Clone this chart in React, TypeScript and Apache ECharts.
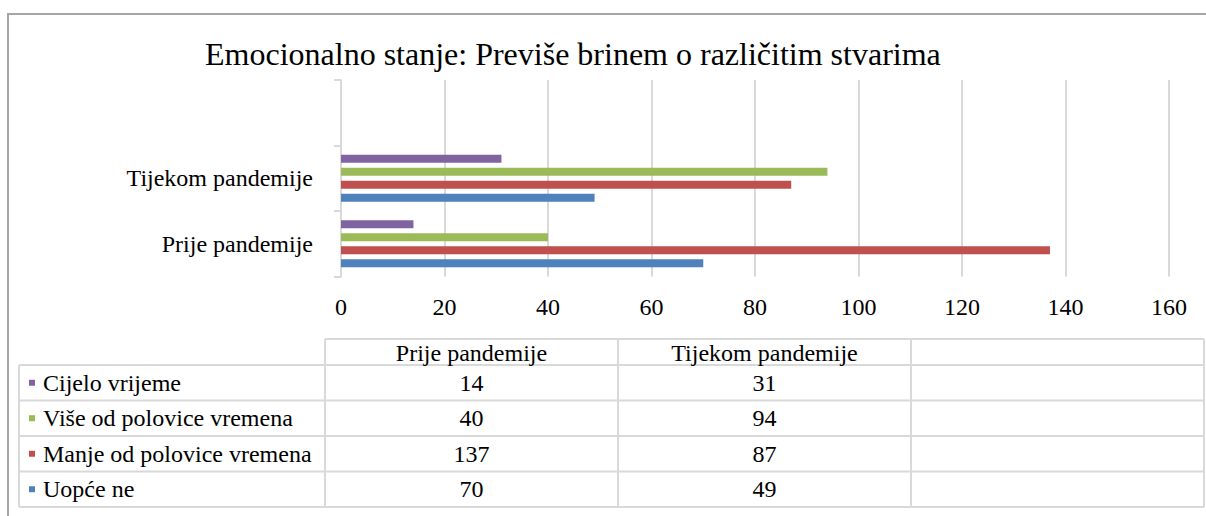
import React, { useEffect, useRef } from "react";
import * as echarts from "echarts";

const titleText = "Emocionalno stanje: Previše brinem o različitim stvarima";
const categories = ["Prije pandemije", "Tijekom pandemije", ""];
const tableColumns = ["Prije pandemije", "Tijekom pandemije", ""];
const seriesNames = ["Cijelo vrijeme", "Više od polovice vremena", "Manje od polovice vremena", "Uopće ne"];
const seriesColors = ["#8064A2", "#9BBB59", "#C0504D", "#4F81BD"];
const cijeloVrijeme = [14, 31];
const viseOdPolovice = [40, 94];
const manjeOdPolovice = [137, 87];
const uopceNe = [70, 49];
const seriesValues = [cijeloVrijeme, viseOdPolovice, manjeOdPolovice, uopceNe];
const xTicks = { min: 0, max: 160, interval: 20 };

const FONT = '"Liberation Serif", "Times New Roman", serif';

export default function App() {
  const ref = useRef<HTMLDivElement>(null);
  useEffect(() => {
    if (!ref.current) return;
    const chart = echarts.init(ref.current, undefined, { renderer: "svg" });
    const gridColor = "#d9d9d9";

    const colX = [325, 618, 911, 1204];
    const tableLeft = 19;
    const headerTop = 339;
    const headerBottom = 365;
    const rowH = 35.5;
    const tableBottom = headerBottom + rowH * seriesNames.length;
    const g: any[] = [];
    const lineStyle = { stroke: gridColor, lineWidth: 2 };
    g.push({ type: "line", shape: { x1: 8, y1: 14, x2: 1206, y2: 14 }, style: { stroke: "#a6a6a6", lineWidth: 2 } });
    g.push({ type: "line", shape: { x1: 8, y1: 13, x2: 8, y2: 516 }, style: { stroke: "#a6a6a6", lineWidth: 2 } });
    g.push({ type: "line", shape: { x1: colX[0], y1: headerTop, x2: colX[3], y2: headerTop }, style: lineStyle });
    for (let i = 0; i <= seriesNames.length; i++) {
      const y = headerBottom + rowH * i;
      g.push({ type: "line", shape: { x1: tableLeft, y1: y, x2: colX[3], y2: y }, style: lineStyle });
    }
    g.push({ type: "line", shape: { x1: tableLeft, y1: headerBottom, x2: tableLeft, y2: tableBottom }, style: lineStyle });
    colX.forEach((x) => {
      g.push({ type: "line", shape: { x1: x, y1: headerTop, x2: x, y2: tableBottom }, style: lineStyle });
    });

    const titles: any[] = [
      {
        text: titleText,
        left: 200,
        top: 33,
        textStyle: { fontFamily: FONT, fontSize: 32, fontWeight: "normal", color: "#000" },
      },
    ];
    const cell = (text: string, x: number, y: number, align: string) => ({
      text,
      left: x,
      top: y,
      padding: 0,
      textAlign: align,
      textVerticalAlign: "middle",
      textStyle: { fontFamily: FONT, fontSize: 24, fontWeight: "normal", color: "#000" },
    });
    tableColumns.forEach((c, ci) => {
      if (!c) return;
      titles.push(cell(c, (colX[ci] + colX[ci + 1]) / 2, (headerTop + headerBottom) / 2 + 1, "center"));
    });
    seriesNames.forEach((name, ri) => {
      const cy = headerBottom + rowH * ri + rowH / 2;
      g.push({ type: "rect", shape: { x: 29, y: cy - 3, width: 6, height: 6 }, style: { fill: seriesColors[ri] } });
      titles.push(cell(name, 43, cy, "left"));
      seriesValues[ri].forEach((v, ci) => {
        titles.push(cell(String(v), (colX[ci] + colX[ci + 1]) / 2, cy, "center"));
      });
    });

    const order = [0, 1, 2, 3];
    chart.setOption({
      animation: false,
      backgroundColor: "#ffffff",
      title: titles,
      grid: { left: 341, right: 37, top: 80, bottom: 239.5, containLabel: false },
      xAxis: {
        type: "value",
        min: xTicks.min,
        max: xTicks.max,
        interval: xTicks.interval,
        axisLine: { show: false },
        axisTick: { show: false },
        splitLine: { lineStyle: { color: gridColor, width: 2 } },
        axisLabel: { fontFamily: FONT, fontSize: 24, color: "#000", margin: 18 },
      },
      yAxis: {
        type: "category",
        data: categories,
        axisLine: { show: true, lineStyle: { color: gridColor, width: 2 } },
        axisTick: { show: true, length: 7, lineStyle: { color: gridColor, width: 2 } },
        axisLabel: { fontFamily: FONT, fontSize: 24, color: "#000", margin: 28 },
      },
      series: order.map((i) => ({
        type: "bar",
        name: seriesNames[i],
        data: seriesValues[i],
        barWidth: 8,
        barGap: "62%",
        itemStyle: { color: seriesColors[i] },
      })),
      graphic: { elements: g },
    });
    return () => chart.dispose();
  }, []);
  return <div ref={ref} style={{ position: "absolute", left: 0, top: 0, width: 1206, height: 516 }} />;
}
